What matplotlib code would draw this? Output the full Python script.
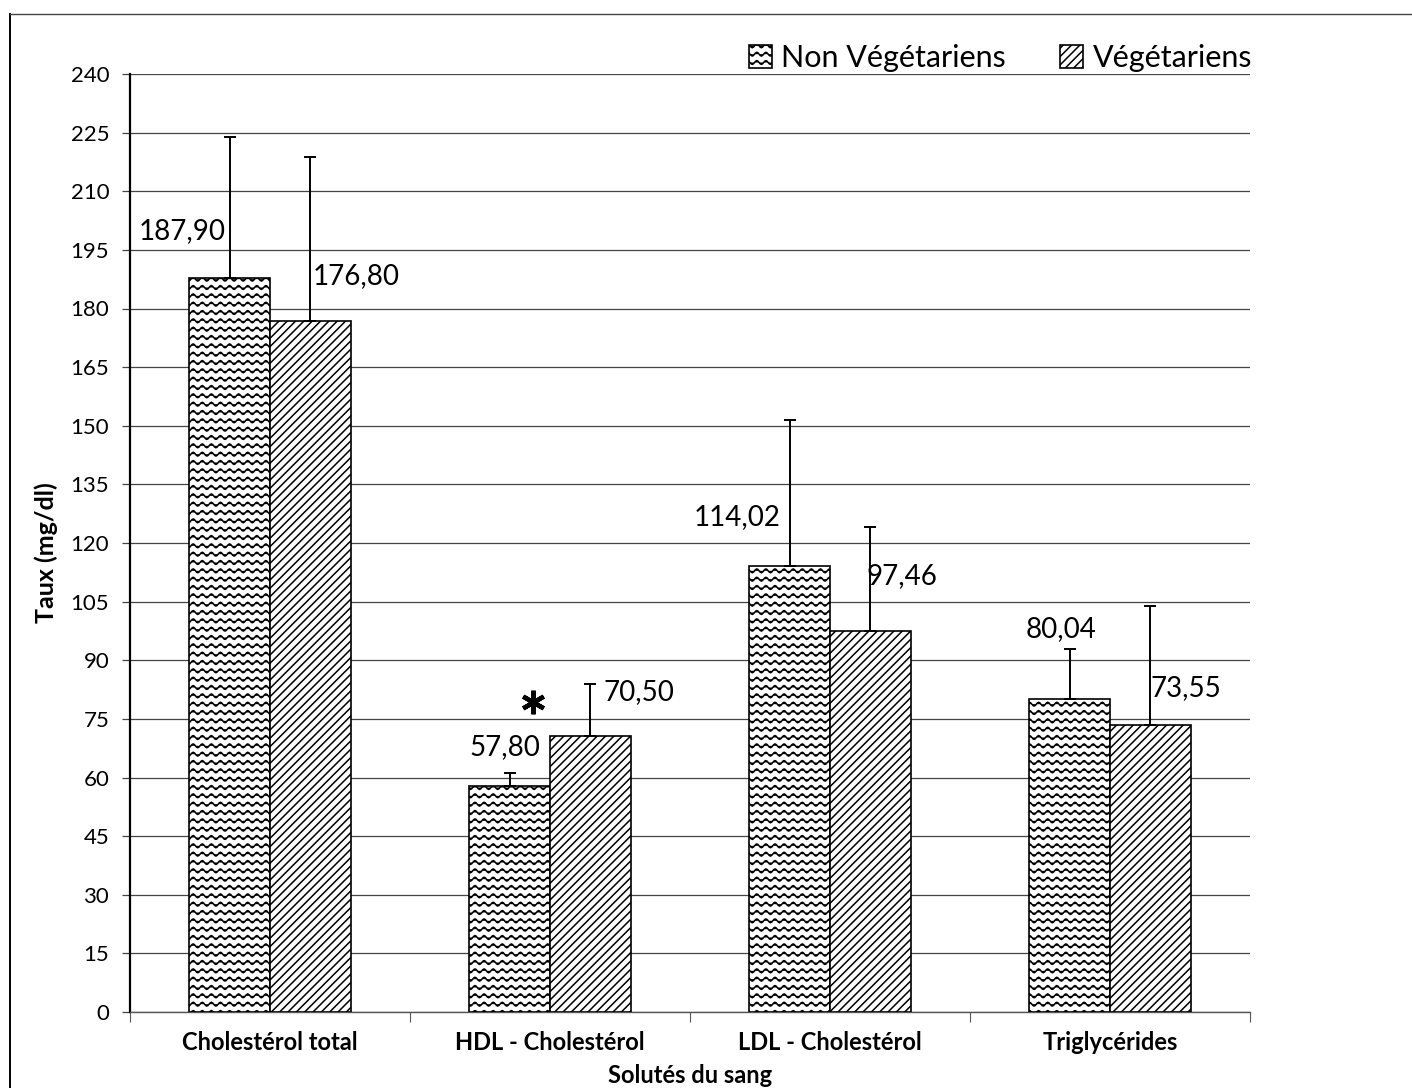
import warnings
import numpy as np
import matplotlib
matplotlib.use("Agg")
import matplotlib.pyplot as plt
import matplotlib.hatch as mhatch
from matplotlib.path import Path
from matplotlib.lines import Line2D

warnings.filterwarnings("ignore")

# ---------------- data ----------------
categories = ["Cholestérol total", "HDL - Cholestérol", "LDL - Cholestérol", "Triglycérides"]
series_names = ["Non Végétariens", "Végétariens"]
non_veg = [187.90, 57.80, 114.02, 80.04]
veg = [176.80, 70.50, 97.46, 73.55]
non_veg_err = [36.1, 3.4, 37.4, 12.9]
veg_err = [42.0, 13.4, 26.7, 30.4]
yticks = list(range(0, 241, 15))
significant = [1]  # category index with asterisk

# label offsets (layout): (dx in category units, dy in data units)
nv_label_off = [(-0.169, 11.9), (-0.018, 10.1), (-0.189, 12.7), (-0.029, 18.0)]
v_label_off = [(0.164, 11.5), (0.174, 11.4), (0.114, 14.1), (0.128, 9.35)]


# ---------------- custom wavy hatch ----------------
class WaveHatch(mhatch.HatchPatternBase):
    def __init__(self, hatch, density):
        self.num_rows = int(hatch.count('~') * density)
        self.periods = max(1, int(round(self.num_rows * 0.9)))
        self.pts = 8
        if self.num_rows:
            self.n_per_row = self.periods * self.pts + 1
            self.num_vertices = self.num_rows * self.n_per_row
        else:
            self.num_vertices = 0

    def set_vertices_and_codes(self, vertices, codes):
        steps, step = np.linspace(0.0, 1.0, self.num_rows, False, retstep=True)
        steps += step / 2.0
        x = np.linspace(0.0, 1.0, self.n_per_row)
        wave = 0.019 * np.sin(2 * np.pi * self.periods * x)
        for i, y0 in enumerate(steps):
            sl = slice(i * self.n_per_row, (i + 1) * self.n_per_row)
            vertices[sl, 0] = x
            vertices[sl, 1] = y0 + wave
            codes[sl] = Path.LINETO
            codes[i * self.n_per_row] = Path.MOVETO


mhatch._hatch_types.append(WaveHatch)

FONT = ["Lato", "DejaVu Sans"]
plt.rcParams['font.family'] = FONT
plt.rcParams['hatch.color'] = 'black'
plt.rcParams['hatch.linewidth'] = 1.1

fig = plt.figure(figsize=(14.12, 10.88), dpi=100)
ax = fig.add_axes([130 / 1412, 1 - 1012 / 1088, 1120 / 1412, 938 / 1088])

x = np.arange(len(categories))
w = 0.288
b1 = ax.bar(x - w / 2, non_veg, w, facecolor='white', edgecolor='black',
            linewidth=1.2, hatch='~~', label=series_names[0], zorder=3)
b2 = ax.bar(x + w / 2, veg, w, facecolor='white', edgecolor='black',
            linewidth=1.2, hatch='////', label=series_names[1], zorder=3)

ax.errorbar(x - w / 2, non_veg, yerr=[np.zeros(len(x)), non_veg_err], fmt='none',
            ecolor='black', elinewidth=1.4, capsize=4, capthick=1.4, zorder=4)
ax.errorbar(x + w / 2, veg, yerr=[np.zeros(len(x)), veg_err], fmt='none',
            ecolor='black', elinewidth=1.4, capsize=4, capthick=1.4, zorder=4)

def fmt(v):
    return f"{v:.2f}".replace('.', ',')

for i in range(len(x)):
    dx, dy = nv_label_off[i]
    ax.text(x[i] - w / 2 + dx, non_veg[i] + dy, fmt(non_veg[i]), ha='center',
            va='center', fontsize=20, color='black', zorder=5)
    dx, dy = v_label_off[i]
    ax.text(x[i] + w / 2 + dx, veg[i] + dy, fmt(veg[i]), ha='center',
            va='center', fontsize=20, color='black', zorder=5)

for i in significant:
    ax.plot([x[i] - w / 2 + 0.082], [non_veg[i] + 21.5], marker=(6, 2, 0),
            markersize=17, mew=3.2, color='black', zorder=5)

ax.set_xlim(-0.5, len(categories) - 0.5)
ax.set_ylim(0, 240)
ax.set_yticks(yticks)
ax.set_yticklabels([str(t) for t in yticks], fontsize=16)
ax.set_xticks(x)
ax.set_xticklabels(categories, fontsize=17, fontweight='bold')
ax.set_xticks(np.arange(-0.5, len(categories)), minor=True)
ax.tick_params(axis='x', which='major', length=0, pad=14)
ax.tick_params(axis='x', which='minor', length=7, width=0.8, color='#555555')
ax.tick_params(axis='y', length=6, width=0.9, pad=9, color='#444444')

ax.yaxis.grid(True, color='#444444', linewidth=0.9, zorder=0)
ax.set_axisbelow(True)
for s in ['top', 'right']:
    ax.spines[s].set_visible(False)
ax.spines['left'].set_linewidth(1.6)
ax.spines['left'].set_color('black')
ax.spines['bottom'].set_linewidth(1.0)
ax.spines['bottom'].set_color('#555555')

ax.set_ylabel("Taux (mg/dl)", fontsize=18, fontweight='bold')
ax.yaxis.set_label_coords(-0.064, 0.49)
ax.set_xlabel("Solutés du sang", fontsize=17, fontweight='bold', labelpad=7)

leg = fig.legend(handles=[b1, b2], labels=series_names, loc='center right',
                 bbox_to_anchor=(1252 / 1412, 1 - 58 / 1088), ncol=2, frameon=False,
                 fontsize=22, handlelength=0.75, handleheight=0.75, handletextpad=0.3,
                 columnspacing=1.8, borderpad=0, borderaxespad=0)

# chart-area border (left and top)
fig.add_artist(Line2D([10 / 1412, 10 / 1412], [0, 1 - 14 / 1088], transform=fig.transFigure,
                      color='black', linewidth=1.4))
fig.add_artist(Line2D([10 / 1412, 1], [1 - 14 / 1088, 1 - 14 / 1088], transform=fig.transFigure,
                      color='#444444', linewidth=1.0))

fig.savefig("out.png", dpi=100)
